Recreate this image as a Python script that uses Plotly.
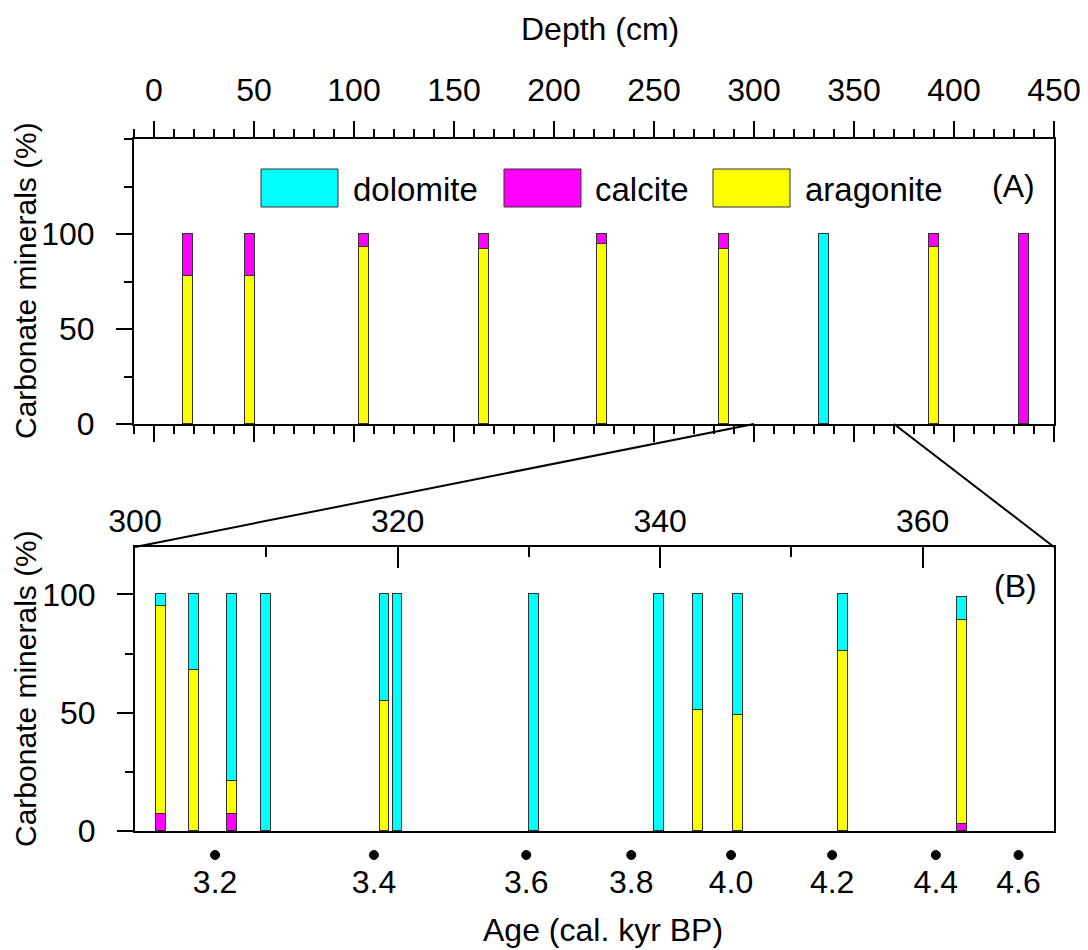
import plotly.graph_objects as go

# ---------------- data ----------------
# Panel A (full core)
depth_a = [17, 48, 105, 165, 224, 285, 335, 390, 435]
aragonite_a = [78, 78, 93, 92, 95, 92, 0, 93, 0]
calcite_a = [22, 22, 7, 8, 5, 8, 0, 7, 100]
dolomite_a = [0, 0, 0, 0, 0, 0, 100, 0, 0]

# Panel B (zoom 300-370 cm)
depth_b = [302.0, 304.5, 307.4, 310.0, 319.0, 320.0, 330.4, 339.9, 342.9, 345.9, 353.9, 363.0]
calcite_b = [7, 0, 7, 0, 0, 0, 0, 0, 0, 0, 0, 3]
aragonite_b = [88, 68, 14, 0, 55, 0, 0, 0, 51, 49, 76, 86]
dolomite_b = [5, 32, 79, 100, 45, 100, 100, 100, 49, 51, 24, 10]

# Age scale (cal. kyr BP) at depth positions of panel B
age_labels = ["3.2", "3.4", "3.6", "3.8", "4.0", "4.2", "4.4", "4.6"]
age_depth = [306.1, 318.2, 329.8, 337.8, 345.4, 353.1, 361.0, 367.3]

depth_ticks_a = [0, 50, 100, 150, 200, 250, 300, 350, 400, 450]
depth_ticks_b = [300, 320, 340, 360]
y_ticks = [0, 50, 100]

series_names = ["dolomite", "calcite", "aragonite"]
colors = {"dolomite": "#00FFFF", "calcite": "#FF00FF", "aragonite": "#FFFF00"}

# ---------------- layout geometry ----------------
W, H = 1088, 950
def fx(px):
    return px / W
def fy(py):
    return 1 - py / H

xa_dom = [fx(134), fx(1054)]
ya_dom = [fy(424), fy(139)]
xb_dom = [fx(135), fx(1054)]
yb_dom = [fy(831), fy(547)]
xa_rng = [-10, 450]
ya_rng = [0, 150]
xb_rng = [300, 370]
yb_rng = [0, 120]

FONT = "Liberation Sans, Arial, sans-serif"
LINE = "#333333"

def nz(v):
    return [None if t == 0 else t for t in v]

fig = go.Figure()

# Panel A bars (aragonite bottom, calcite, dolomite)
for name, vals in [("aragonite", aragonite_a), ("calcite", calcite_a), ("dolomite", dolomite_a)]:
    fig.add_trace(go.Bar(x=depth_a, y=nz(vals), width=5, name=name,
                         marker=dict(color=colors[name], line=dict(color=LINE, width=1)),
                         xaxis="x", yaxis="y", showlegend=False))

# Panel B bars (calcite bottom, aragonite, dolomite)
for name, vals in [("calcite", calcite_b), ("aragonite", aragonite_b), ("dolomite", dolomite_b)]:
    fig.add_trace(go.Bar(x=depth_b, y=nz(vals), width=0.75, name=name,
                         marker=dict(color=colors[name], line=dict(color=LINE, width=1)),
                         xaxis="x2", yaxis="y2", showlegend=False))

# invisible traces so the overlay axes are drawn
fig.add_trace(go.Scatter(x=[None], y=[None], xaxis="x3", yaxis="y", showlegend=False, hoverinfo="skip"))
fig.add_trace(go.Scatter(x=[None], y=[None], xaxis="x4", yaxis="y2", showlegend=False, hoverinfo="skip"))

tickfont = dict(family=FONT, size=32, color="black")
common = dict(showgrid=False, zeroline=False, linecolor="black", linewidth=2,
              tickcolor="black", tickwidth=2, automargin=False, fixedrange=True)

layout = dict(
    width=W, height=H, margin=dict(l=0, r=0, t=0, b=0),
    paper_bgcolor="white", plot_bgcolor="rgba(0,0,0,0)",
    barmode="stack", bargap=0, showlegend=False,
    font=dict(family=FONT, color="black"),
    # panel A bottom
    xaxis=dict(domain=xa_dom, anchor="y", range=xa_rng, showline=True, mirror=False,
               ticks="outside", ticklen=16, tickvals=depth_ticks_a, showticklabels=False,
               minor=dict(ticks="outside", ticklen=8, dtick=10, tick0=0, tickwidth=2, tickcolor="black"),
               **common),
    # panel A top (labels)
    xaxis3=dict(overlaying="x", side="top", anchor="y", range=xa_rng, showline=True,
                ticks="outside", ticklen=16, tickvals=depth_ticks_a, tickfont=tickfont,
                ticklabelstandoff=7,
                minor=dict(ticks="outside", ticklen=8, dtick=10, tick0=0, tickwidth=2, tickcolor="black"),
                **common),
    yaxis=dict(domain=ya_dom, anchor="x", range=ya_rng, showline=True, mirror=True,
               ticks="outside", ticklen=16, tickvals=y_ticks, tickfont=tickfont,
               ticklabelstandoff=15,
               minor=dict(ticks="outside", ticklen=8, dtick=25, tick0=0, tickwidth=2, tickcolor="black"),
               **common),
    # panel B top (depth)
    xaxis2=dict(domain=xb_dom, anchor="y2", side="top", range=xb_rng, showline=True,
                ticks="inside", ticklen=21, tickvals=depth_ticks_b, tickfont=tickfont,
                ticklabelstandoff=0,
                minor=dict(ticks="inside", ticklen=10, dtick=10, tick0=300, tickwidth=2, tickcolor="black"),
                **common),
    # panel B bottom (age)
    xaxis4=dict(overlaying="x2", side="bottom", anchor="y2", range=xb_rng, showline=True,
                ticks="", tickvals=age_depth, ticktext=age_labels, tickfont=tickfont,
                ticklabelstandoff=22, **common),
    yaxis2=dict(domain=yb_dom, anchor="x2", range=yb_rng, showline=True, mirror=True,
                ticks="outside", ticklen=16, tickvals=y_ticks, tickfont=tickfont,
                ticklabelstandoff=15,
                minor=dict(ticks="outside", ticklen=8, dtick=25, tick0=0, tickwidth=2, tickcolor="black"),
                **common),
)

def xa_paper(v):
    return xa_dom[0] + (v - xa_rng[0]) / (xa_rng[1] - xa_rng[0]) * (xa_dom[1] - xa_dom[0])

shapes = [
    dict(type="line", xref="paper", yref="paper", x0=xa_paper(xb_rng[0]), y0=ya_dom[0],
         x1=xb_dom[0], y1=yb_dom[1], line=dict(color="black", width=2)),
    dict(type="line", xref="paper", yref="paper", x0=xa_paper(xb_rng[1]), y0=ya_dom[0],
         x1=xb_dom[1], y1=yb_dom[1], line=dict(color="black", width=2)),
]

# age tick dots below panel B
for d in age_depth:
    shapes.append(dict(type="circle", xref="x2", yref="paper", xsizemode="pixel", ysizemode="pixel",
                       xanchor=d, yanchor=fy(855), x0=-4.5, x1=4.5, y0=-4.5, y1=4.5,
                       fillcolor="black", line=dict(color="black", width=1)))

# legend (large swatches)
legend_box_x = [261, 504, 713]
legend_text_x = [351, 593, 803]
for name, bx, tx in zip(series_names, legend_box_x, legend_text_x):
    shapes.append(dict(type="rect", xref="paper", yref="paper", x0=fx(bx), x1=fx(bx + 77),
                       y0=fy(207), y1=fy(169), fillcolor=colors[name],
                       line=dict(color=LINE, width=1)))

annotations = [
    dict(text="Depth (cm)", x=fx(600), y=fy(29), xref="paper", yref="paper", showarrow=False,
         font=dict(family=FONT, size=32), xanchor="center", yanchor="middle"),
    dict(text="Carbonate minerals (%)", x=fx(25), y=fy(281), xref="paper", yref="paper",
         showarrow=False, textangle=-90, font=dict(family=FONT, size=30),
         xanchor="center", yanchor="middle"),
    dict(text="Carbonate minerals (%)", x=fx(25), y=fy(689), xref="paper", yref="paper",
         showarrow=False, textangle=-90, font=dict(family=FONT, size=30),
         xanchor="center", yanchor="middle"),
    dict(text="Age (cal. kyr BP)", x=fx(603), y=fy(930), xref="paper", yref="paper",
         showarrow=False, font=dict(family=FONT, size=32), xanchor="center", yanchor="middle"),
    dict(text="(A)", x=fx(1013), y=fy(186), xref="paper", yref="paper", showarrow=False,
         font=dict(family=FONT, size=32), xanchor="center", yanchor="middle"),
    dict(text="(B)", x=fx(1015), y=fy(586), xref="paper", yref="paper", showarrow=False,
         font=dict(family=FONT, size=32), xanchor="center", yanchor="middle"),
]
for name, tx in zip(series_names, legend_text_x):
    annotations.append(dict(text=name, x=fx(tx), y=fy(189), xref="paper", yref="paper",
                            showarrow=False, font=dict(family=FONT, size=33),
                            xanchor="left", yanchor="middle"))

layout["shapes"] = shapes
layout["annotations"] = annotations
fig.update_layout(**layout)

fig.write_html("out.html")
